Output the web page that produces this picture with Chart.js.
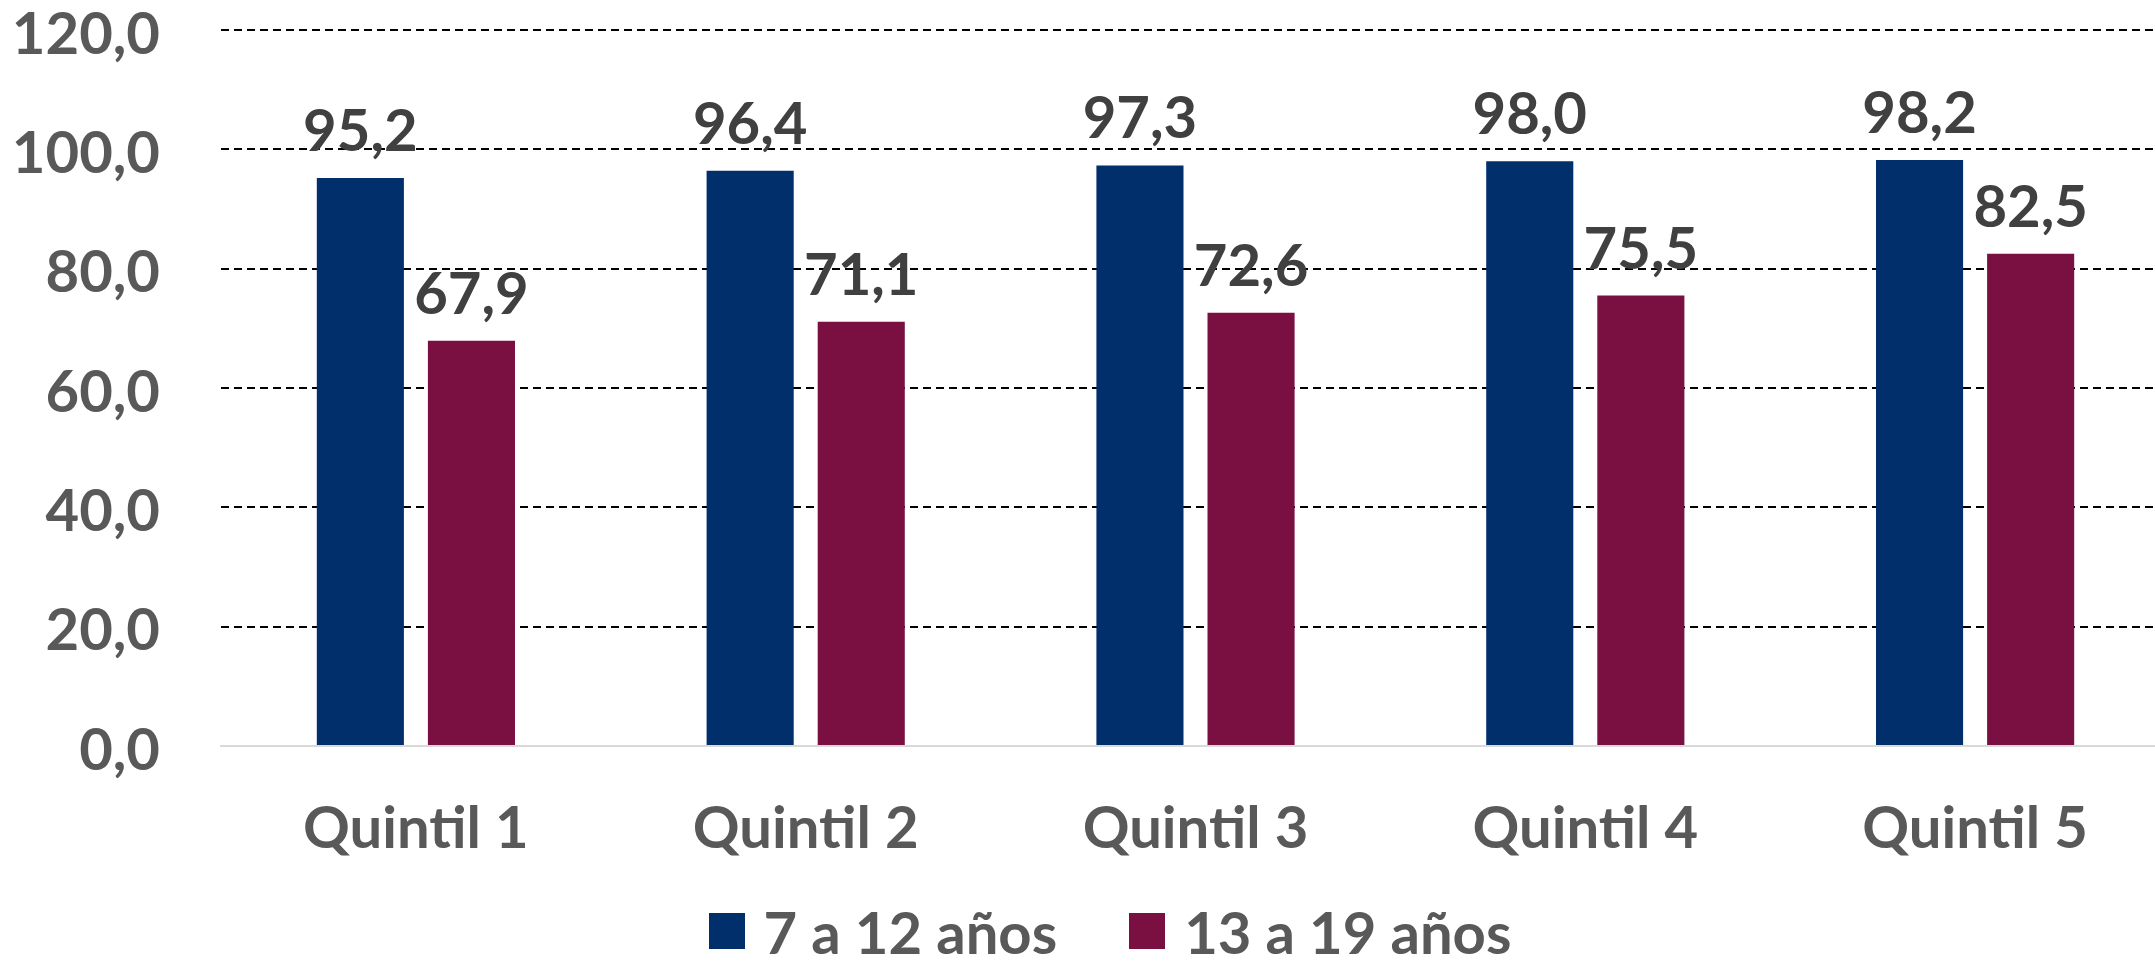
<!DOCTYPE html>
<html>
<head>
<meta charset="utf-8">
<script src="https://cdn.jsdelivr.net/npm/chart.js@4/dist/chart.umd.min.js"></script>
<style>
	html, body { margin: 0; padding: 0; background: #fff; overflow: hidden; }
	#wrap { position: relative; width: 2170px; height: 961px; }
	#legend {
		position: absolute; left: 0; top: 896px; width: 2220px; height: 70px;
		display: flex; justify-content: center; align-items: center;
		font-family: Lato, sans-serif; font-weight: bold; font-size: 58px; color: #595959;
	}
	.item { display: flex; align-items: center; margin: 0 36px; }
	.swatch { width: 36px; height: 36px; margin-right: 19px; }
</style>
</head>
<body>
<div id="wrap"><canvas id="chart"></canvas></div>
<div id="legend"></div>
<script>
const categories = ["Quintil 1", "Quintil 2", "Quintil 3", "Quintil 4", "Quintil 5"];
const seriesNames = ["7 a 12 años", "13 a 19 años"];
const seriesColors = ["#002F6C", "#7A1042"];
const young = [95.2, 96.4, 97.3, 98.0, 98.2];
const teens = [67.9, 71.1, 72.6, 75.5, 82.5];
const yTicks = [0, 20, 40, 60, 80, 100, 120];

const fmt = (v) => v.toFixed(1).replace(".", ",");

// value labels over each bar, placed from the bar elements
const valueLabels = {
	id: "valueLabels",
	afterDatasetsDraw(chart) {
		const ctx = chart.ctx;
		ctx.save();
		ctx.font = "bold 58px Lato";
		ctx.fillStyle = "#404040";
		ctx.textAlign = "center";
		ctx.textBaseline = "alphabetic";
		chart.data.datasets.forEach((ds, i) => {
			chart.getDatasetMeta(i).data.forEach((bar, j) => {
				ctx.fillText(fmt(ds.data[j]), bar.x, bar.y - 27);
			});
		});
		ctx.restore();
	},
};

const ctx = document.getElementById("chart").getContext("2d");
const chart = new Chart(ctx, {
	type: "bar",
	data: {
		labels: categories,
		datasets: [
			{ label: seriesNames[0], data: young, backgroundColor: seriesColors[0] },
			{ label: seriesNames[1], data: teens, backgroundColor: seriesColors[1] },
		],
	},
	options: {
		responsive: true,
		maintainAspectRatio: false,
		animation: false,
		layout: { padding: { top: 30, left: 0, right: 0, bottom: 85 } },
		datasets: {
			bar: { categoryPercentage: 0.57, barPercentage: 0.784 },
		},
		plugins: {
			tooltip: { enabled: false },
			legend: { display: false },
		},
		scales: {
			x: {
				grid: { display: false },
				border: { display: true, color: "#D9D9D9", width: 2 },
				afterFit: (axis) => {
					axis.height = 130;
				},
				ticks: {
					color: "#595959",
					padding: 46,
					font: { family: "Lato", size: 58, weight: "bold", lineHeight: 1 },
				},
			},
			y: {
				min: 0,
				max: 120,
				afterBuildTicks: (axis) => {
					axis.ticks = yTicks.map((v) => ({ value: v }));
				},
				afterFit: (axis) => {
					axis.width = 221;
				},
				border: { display: false, dash: [8, 5] },
				grid: {
					drawTicks: true,
					tickLength: 61,
					tickColor: "rgba(0,0,0,0)",
					lineWidth: 2,
					color: (c) => (c.tick && c.tick.value === 0 ? "rgba(0,0,0,0)" : "#000000"),
				},
				ticks: {
					color: "#595959",
					padding: 0,
					labelOffset: 5,
					font: { family: "Lato", size: 58, weight: "bold", lineHeight: 1 },
					callback: (v) => fmt(v),
				},
			},
		},
	},
	plugins: [valueLabels],
});

// legend as html below the chart
const legend = document.getElementById("legend");
seriesNames.forEach((name, i) => {
	const item = document.createElement("div");
	item.className = "item";
	item.innerHTML = `<span class="swatch" style="background:${seriesColors[i]}"></span><span>${name}</span>`;
	legend.appendChild(item);
});
</script>
</body>
</html>
